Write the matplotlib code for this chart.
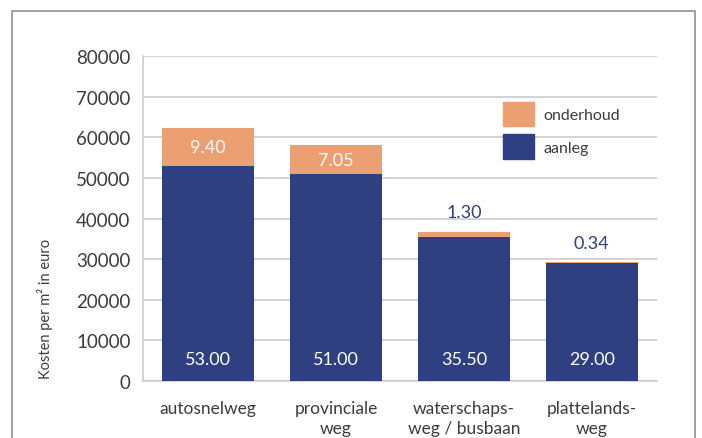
import matplotlib
matplotlib.use("Agg")
import matplotlib.pyplot as plt
from matplotlib.patches import Patch, Rectangle

# data (axis in euro, labels shown in thousands)
categories = ["autosnelweg", "provinciale\nweg", "waterschaps-\nweg / busbaan", "plattelands-\nweg"]
aanleg = [53000, 51000, 35500, 29000]
onderhoud = [9400, 7050, 1300, 340]
aanleg_labels = ["53.00", "51.00", "35.50", "29.00"]
onderhoud_labels = ["9.40", "7.05", "1.30", "0.34"]
yticks = [0, 10000, 20000, 30000, 40000, 50000, 60000, 70000, 80000]

BLUE = "#2e3f82"
ORANGE = "#eca072"
GRID = "#cccccc"
TEXT = "#3c3c3c"

plt.rcParams["font.family"] = ["Lato", "DejaVu Sans"]

fig = plt.figure(figsize=(7.02, 4.39), dpi=100)
ax = fig.add_axes([0.2037, 0.1298, 0.7322, 0.7403])

x = list(range(len(categories)))
ax.bar(x, aanleg, width=0.72, color=BLUE, zorder=3)
ax.bar(x, onderhoud, width=0.72, bottom=aanleg, color=ORANGE, zorder=3)

for i in x:
    ax.text(i, 5400, aanleg_labels[i], ha="center", va="center",
            color="white", fontsize=13, zorder=4)
    top = aanleg[i] + onderhoud[i]
    if onderhoud[i] > 3000:
        ax.text(i, aanleg[i] + onderhoud[i] / 2, onderhoud_labels[i],
                ha="center", va="center", color="white", fontsize=13, zorder=4)
    else:
        ax.annotate(onderhoud_labels[i], (i, top), xytext=(0, 8),
                    textcoords="offset points", ha="center", va="bottom",
                    color=BLUE, fontsize=13, zorder=4)

ax.set_xlim(-0.51, 3.51)
ax.set_ylim(0, 80000)
ax.set_yticks(yticks)
ax.set_yticklabels([str(v) for v in yticks])
ax.yaxis.grid(True, color=GRID, linewidth=1.2, zorder=0)
ax.set_axisbelow(True)
ax.tick_params(axis="y", length=0, pad=9, labelsize=13.5, labelcolor=TEXT)
ax.set_xticks(x)
ax.set_xticklabels(categories, linespacing=1.3)
ax.tick_params(axis="x", length=0, pad=14, labelsize=12.5, labelcolor=TEXT)

for side in ["top", "right"]:
    ax.spines[side].set_visible(False)
ax.spines["left"].set_color(GRID)
ax.spines["bottom"].set_color(GRID)
ax.spines["left"].set_linewidth(1.2)
ax.spines["bottom"].set_linewidth(1.2)

ax.set_ylabel("Kosten per m² in euro", fontsize=10.5, color=TEXT)
ax.yaxis.set_label_coords(-0.175, 0.225)

handles = [Patch(color=ORANGE, label="onderhoud"), Patch(color=BLUE, label="aanleg")]
ax.legend(handles=handles, loc="upper left", bbox_to_anchor=(0.70, 0.86),
          frameon=False, fontsize=11.5, handlelength=1.95, handleheight=1.95,
          labelspacing=0.55, handletextpad=0.6, borderpad=0, borderaxespad=0,
          labelcolor=TEXT)

# outer frame around the figure
fig.patches.append(Rectangle((0.017, -0.05), 0.973, 1.022, transform=fig.transFigure,
                             fill=False, edgecolor="#9a9a9a", linewidth=1.3))

fig.savefig("out.png", dpi=100)
